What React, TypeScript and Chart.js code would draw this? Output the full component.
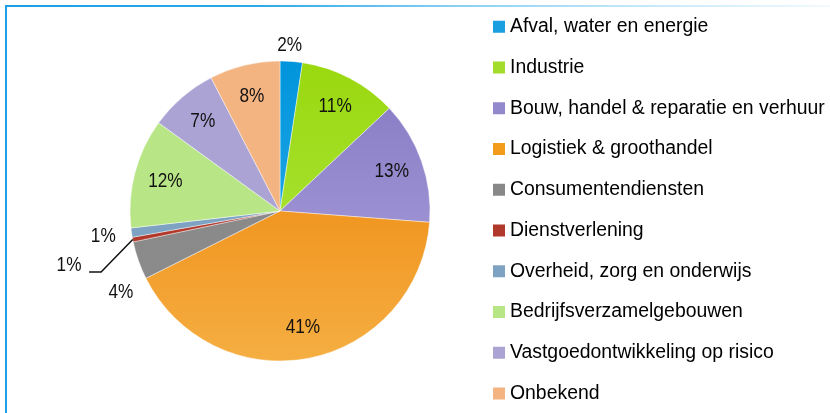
import React, { useEffect, useRef } from 'react';
import { Chart, registerables } from 'chart.js';

Chart.register(...registerables);

// ---- data ----
const sectors = [
  'Afval, water en energie',
  'Industrie',
  'Bouw, handel & reparatie en verhuur',
  'Logistiek & groothandel',
  'Consumentendiensten',
  'Dienstverlening',
  'Overheid, zorg en onderwijs',
  'Bedrijfsverzamelgebouwen',
  'Vastgoedontwikkeling op risico',
  'Onbekend',
];
const shares = [2.4, 10.6, 13.2, 41.4, 4.1, 0.5, 1.0, 11.8, 7.4, 7.6];

// ---- styles ----
const gradTop = ['#0094dc', '#9ad80e', '#8479c2', '#ec7e00', '#878787', '#b0392b', '#7ea2c2', '#b8e586', '#aca3d5', '#f3b482'];
const gradBottom = ['#3ab4ec', '#b0e84a', '#aea4e0', '#f5ae42', '#8c8c8c', '#b0392b', '#7ea2c2', '#b8e586', '#aca3d5', '#f3b482'];
const legendColors = ['#1a9fe0', '#a3dc2a', '#9288cc', '#f39c1c', '#888888', '#b0392b', '#7ea2c2', '#b8e586', '#aca3d5', '#f3b482'];

const PIE_RADIUS = 150;
const LEGEND_FONT = 19.4;

// outside label placement (angle clockwise from 12 o'clock, distance in radii)
const outsideLabels: Record<number, { angle: number; dist: number; leader?: { angle: number; dist: number; tail: number } }> = {
  0: { angle: 3.3, dist: 1.11 },
  4: { angle: 243, dist: 1.19 },
  5: { angle: 255.6, dist: 1.452, leader: { angle: 251.2, dist: 1.26, tail: 12 } },
  6: { angle: 261.9, dist: 1.19 },
};

let fontCache: { font: string; sx: number } | null = null;
function labelFont(ctx: CanvasRenderingContext2D) {
  if (fontCache) return fontCache;
  const probe = 'abcdefghij 41%';
  ctx.save();
  ctx.font = '40px "Liberation Sans Narrow", monospace';
  const a = ctx.measureText(probe).width;
  ctx.font = '40px monospace';
  const b = ctx.measureText(probe).width;
  ctx.restore();
  fontCache = a !== b
    ? { font: '21px "Liberation Sans Narrow"', sx: 1 }
    : { font: '21px "Liberation Sans", Arial, sans-serif', sx: 0.82 };
  return fontCache;
}

const pctLabels = {
  id: 'pctLabels',
  afterDatasetsDraw(chart: any) {
    const meta = chart.getDatasetMeta(0);
    const ctx: CanvasRenderingContext2D = chart.ctx;
    const f = labelFont(ctx);
    ctx.save();
    ctx.fillStyle = '#111111';
    ctx.strokeStyle = '#111111';
    ctx.textAlign = 'center';
    ctx.textBaseline = 'middle';
    ctx.font = f.font;
    meta.data.forEach((arc: any, i: number) => {
      const p = arc.getProps(['x', 'y', 'startAngle', 'endAngle', 'outerRadius'], true);
      const text = Math.round(shares[i]) + '%';
      const o = outsideLabels[i];
      let px: number, py: number;
      if (o) {
        const a = ((o.angle - 90) * Math.PI) / 180;
        px = p.x + Math.cos(a) * o.dist * p.outerRadius;
        py = p.y + Math.sin(a) * o.dist * p.outerRadius;
        if (o.leader) {
          const mid = (p.startAngle + p.endAngle) / 2;
          const sx = p.x + Math.cos(mid) * p.outerRadius;
          const sy = p.y + Math.sin(mid) * p.outerRadius;
          const la = ((o.leader.angle - 90) * Math.PI) / 180;
          const ex = p.x + Math.cos(la) * o.leader.dist * p.outerRadius;
          const ey = p.y + Math.sin(la) * o.leader.dist * p.outerRadius;
          ctx.beginPath();
          ctx.lineWidth = 1.5;
          ctx.moveTo(sx, sy);
          ctx.lineTo(ex, ey);
          ctx.lineTo(ex - o.leader.tail, ey);
          ctx.stroke();
        }
      } else {
        const mid = (p.startAngle + p.endAngle) / 2;
        px = p.x + Math.cos(mid) * 0.79 * p.outerRadius;
        py = p.y + Math.sin(mid) * 0.79 * p.outerRadius;
      }
      ctx.save();
      ctx.translate(px, py);
      ctx.scale(f.sx, 1);
      ctx.fillText(text, 0, 0);
      ctx.restore();
    });
    ctx.restore();
  },
};

export default function App() {
  const ref = useRef<HTMLCanvasElement>(null);

  useEffect(() => {
    const canvas = ref.current!;
    const chart = new Chart(canvas, {
      type: 'pie',
      data: {
        labels: sectors,
        datasets: [
          {
            data: shares,
            backgroundColor: (c: any) => {
              const ch = c.chart;
              const area = ch.chartArea;
              const i = c.dataIndex ?? 0;
              if (!area) return legendColors[i];
              const cy = (area.top + area.bottom) / 2;
              const g = ch.ctx.createLinearGradient(0, cy - PIE_RADIUS, 0, cy + PIE_RADIUS);
              g.addColorStop(0, gradTop[i]);
              g.addColorStop(1, gradBottom[i]);
              return g;
            },
            borderColor: 'rgba(255,255,255,0.55)',
            borderWidth: 0.8,
          },
        ],
      },
      options: {
        responsive: false,
        animation: false,
        radius: PIE_RADIUS,
        layout: { padding: { top: 0.64, bottom: 8.64, left: 83.66, right: 0 } },
        plugins: {
          tooltip: { enabled: false },
          legend: {
            position: 'right',
            align: 'start',
            maxWidth: 353.66,
            labels: {
              boxWidth: 2.6,
              boxHeight: 2.6,
              padding: 21.36,
              color: '#161616',
              font: { family: '"Liberation Sans", Arial, sans-serif', size: LEGEND_FONT },
              generateLabels: () =>
                sectors.map((text, i) => ({
                  text,
                  fillStyle: legendColors[i],
                  strokeStyle: legendColors[i],
                  lineWidth: 9.4,
                  lineJoin: 'miter',
                  hidden: false,
                  index: i,
                  datasetIndex: 0,
                })) as any,
            },
          },
        },
      } as any,
      plugins: [pctLabels],
    });
    return () => chart.destroy();
  }, []);

  return (
    <div style={{ position: 'fixed', left: 0, top: 0, width: 830, height: 413, overflow: 'hidden', background: '#ffffff' }}>
      <div style={{ position: 'absolute', left: 5, top: 5, width: 2, height: 420, background: '#1aa0e6' }} />
      <div
        style={{
          position: 'absolute',
          left: 5,
          top: 5,
          width: 825,
          height: 2,
          background: 'linear-gradient(to right, #1aa0e6 0%, #2aa8e8 30%, #8ad0f2 55%, #bfe6f8 75%, #f2f9fe 100%)',
        }}
      />
      <canvas ref={ref} width={830} height={440} style={{ position: 'absolute', left: 0, top: -5, display: 'block' }} />
    </div>
  );
}
